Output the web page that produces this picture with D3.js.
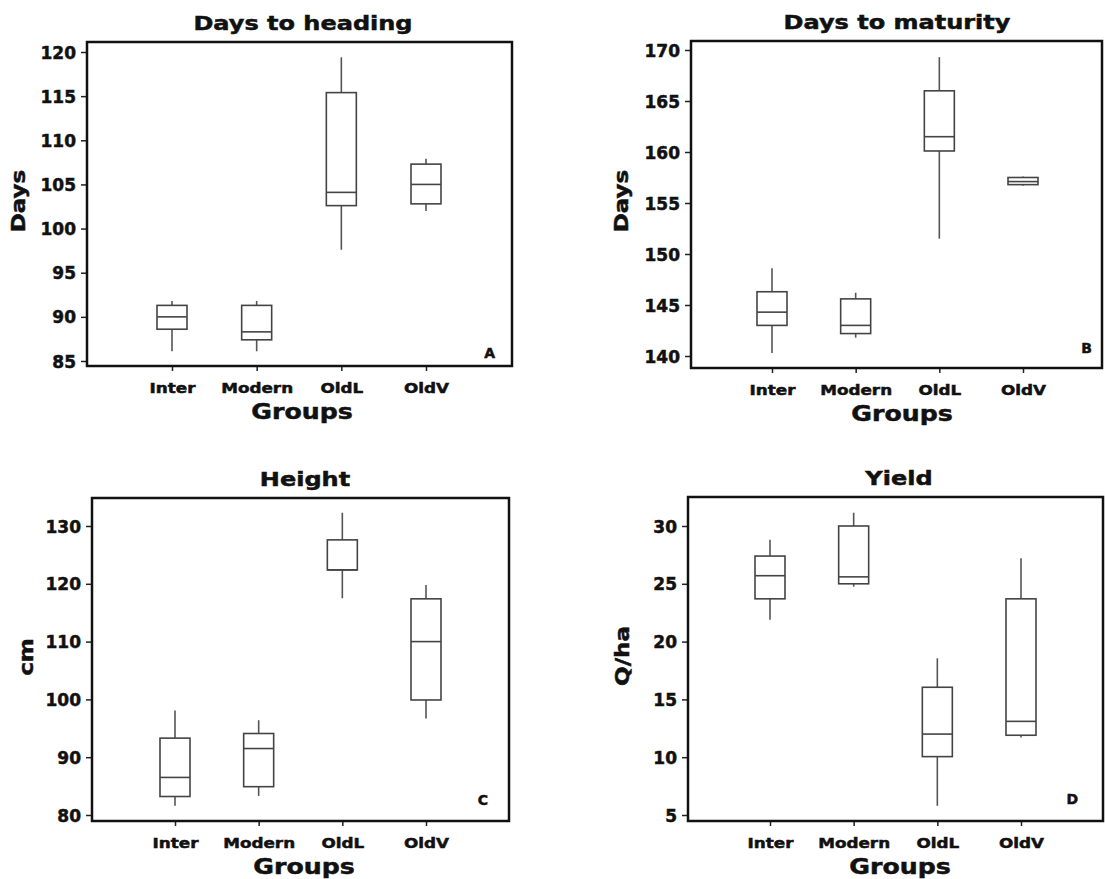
<!DOCTYPE html>
<html>
<head>
<meta charset="utf-8">
<script src="https://cdn.jsdelivr.net/npm/d3@7"></script>
<style>
  body { margin: 0; background: #fff; }
  text { font-family: "DejaVu Sans", Verdana, sans-serif; font-weight: bold; fill: #111; stroke: #111; stroke-width: 0.5px; }
</style>
</head>
<body>
<div id="drawingArea"></div>
<script>
const groups = ["Inter", "Modern", "OldL", "OldV"];

// each row: [low whisker, Q1, median, Q3, high whisker]
const headingStats = [[86.1, 88.6, 90, 91.3, 91.8], [86.1, 87.4, 88.3, 91.3, 91.8], [97.6, 102.6, 104.1, 115.4, 119.4], [102, 102.8, 105, 107.3, 107.9]];
const maturityStats = [[140.3, 143, 144.3, 146.3, 148.6], [141.8, 142.2, 143, 145.6, 146.2], [151.5, 160.1, 161.5, 166, 169.3], [156.7, 156.8, 157.1, 157.5, 157.6]];
const heightStats = [[81.6, 83.2, 86.5, 93.3, 98.1], [83.3, 84.9, 91.5, 94.1, 96.4], [117.5, 122.4, 122.4, 127.6, 132.3], [96.7, 99.9, 110, 117.4, 119.8]];
const yieldStats = [[21.9, 23.7, 25.7, 27.4, 28.8], [24.75, 25, 25.6, 30, 31.15], [5.8, 10.05, 12, 16.05, 18.55], [11.7, 11.9, 13.1, 23.7, 27.2]];

const headingTicks = [85, 90, 95, 100, 105, 110, 115, 120];
const maturityTicks = [140, 145, 150, 155, 160, 165, 170];
const heightTicks = [80, 90, 100, 110, 120, 130];
const yieldTicks = [5, 10, 15, 20, 25, 30];

const svg = d3.select("#drawingArea").append("svg")
    .attr("width", 1105)
    .attr("height", 879);

// panel layout: frame box, where the first/last ticks sit, where groups sit
const panels = [
    { title: "Days to heading", ylab: "Days", tag: "A", stats: headingStats, ticks: headingTicks,
      frame: [87, 42, 512, 366], yPix: [361, 52], xPix: [172, 426], titleX: 303, groupsX: 302, ylabX: 25, ylabY: 201, tagX: 495, tagY: 358 },
    { title: "Days to maturity", ylab: "Days", tag: "B", stats: maturityStats, ticks: maturityTicks,
      frame: [691, 41, 1102, 368], yPix: [356, 50], xPix: [772, 1023], titleX: 897, groupsX: 902, ylabX: 628, ylabY: 201, tagX: 1092, tagY: 353 },
    { title: "Height", ylab: "cm", tag: "C", stats: heightStats, ticks: heightTicks,
      frame: [92, 498, 509, 821], yPix: [815, 526], xPix: [175, 426], titleX: 305, groupsX: 304, ylabX: 33, ylabY: 657, tagX: 488, tagY: 805 },
    { title: "Yield", ylab: "Q/ha", tag: "D", stats: yieldStats, ticks: yieldTicks,
      frame: [688, 497, 1103, 821], yPix: [815, 526], xPix: [770, 1021], titleX: 899, groupsX: 900, ylabX: 629, ylabY: 656, tagX: 1078, tagY: 804 }
];

function drawPanel(p) {
    const [x0, y0, x1, y1] = p.frame;
    const g = svg.append("g");

    const y = d3.scaleLinear()
        .domain([p.ticks[0], p.ticks[p.ticks.length - 1]])
        .range(p.yPix);
    const x = d3.scalePoint()
        .domain(groups)
        .range(p.xPix);
    const boxW = 30;

    // y axis
    const yAxis = g.append("g")
        .attr("transform", `translate(${x0},0)`)
        .call(d3.axisLeft(y).tickValues(p.ticks).tickSize(6).tickPadding(5));
    yAxis.select(".domain").remove();
    yAxis.selectAll("line").attr("stroke", "#222").attr("stroke-width", 1.5);
    yAxis.selectAll("text")
        .style("font-size", "17px")
        .attr("dy", "0.36em");

    // x axis
    const xAxis = g.append("g")
        .attr("transform", `translate(0,${y1})`)
        .call(d3.axisBottom(x).tickSize(5).tickPadding(12));
    xAxis.select(".domain").remove();
    xAxis.selectAll("line").attr("stroke", "#222").attr("stroke-width", 1.5);
    xAxis.selectAll("text")
        .style("font-size", "14px")
        .attr("transform", "scale(1.2,1)");

    // frame
    g.append("rect")
        .attr("x", x0)
        .attr("y", y0)
        .attr("width", x1 - x0)
        .attr("height", y1 - y0)
        .attr("fill", "none")
        .attr("stroke", "#111")
        .attr("stroke-width", 2.5);

    // boxes
    const box = g.selectAll(".box")
        .data(p.stats)
        .enter().append("g")
        .attr("class", "box")
        .attr("transform", (d, i) => `translate(${x(groups[i])},0)`);

    box.append("line")
        .attr("y1", d => y(d[0]))
        .attr("y2", d => y(d[1]))
        .attr("stroke", "#555")
        .attr("stroke-width", 1.6);
    box.append("line")
        .attr("y1", d => y(d[3]))
        .attr("y2", d => y(d[4]))
        .attr("stroke", "#555")
        .attr("stroke-width", 1.6);
    box.append("rect")
        .attr("x", -boxW / 2)
        .attr("y", d => y(d[3]))
        .attr("width", boxW)
        .attr("height", d => y(d[1]) - y(d[3]))
        .attr("fill", "none")
        .attr("stroke", "#444")
        .attr("stroke-width", 1.6);
    box.append("line")
        .attr("x1", -boxW / 2)
        .attr("x2", boxW / 2)
        .attr("y1", d => y(d[2]))
        .attr("y2", d => y(d[2]))
        .attr("stroke", "#444")
        .attr("stroke-width", 1.6);

    // labels
    g.append("text")
        .attr("transform", `translate(${p.titleX},${y0 - 12}) scale(1.2,1)`)
        .attr("text-anchor", "middle")
        .style("font-size", "20px")
        .text(p.title);

    g.append("text")
        .attr("transform", `translate(${p.groupsX},${y1 + 53}) scale(1.2,1)`)
        .attr("text-anchor", "middle")
        .style("font-size", "21px")
        .text("Groups");

    g.append("text")
        .attr("transform", `translate(${p.ylabX},${p.ylabY}) rotate(-90) scale(1.15,1)`)
        .attr("text-anchor", "middle")
        .style("font-size", "20px")
        .text(p.ylab);

    g.append("text")
        .attr("x", p.tagX)
        .attr("y", p.tagY)
        .attr("text-anchor", "end")
        .style("font-size", "14px")
        .text(p.tag);
}

panels.forEach(drawPanel);
</script>
</body>
</html>
